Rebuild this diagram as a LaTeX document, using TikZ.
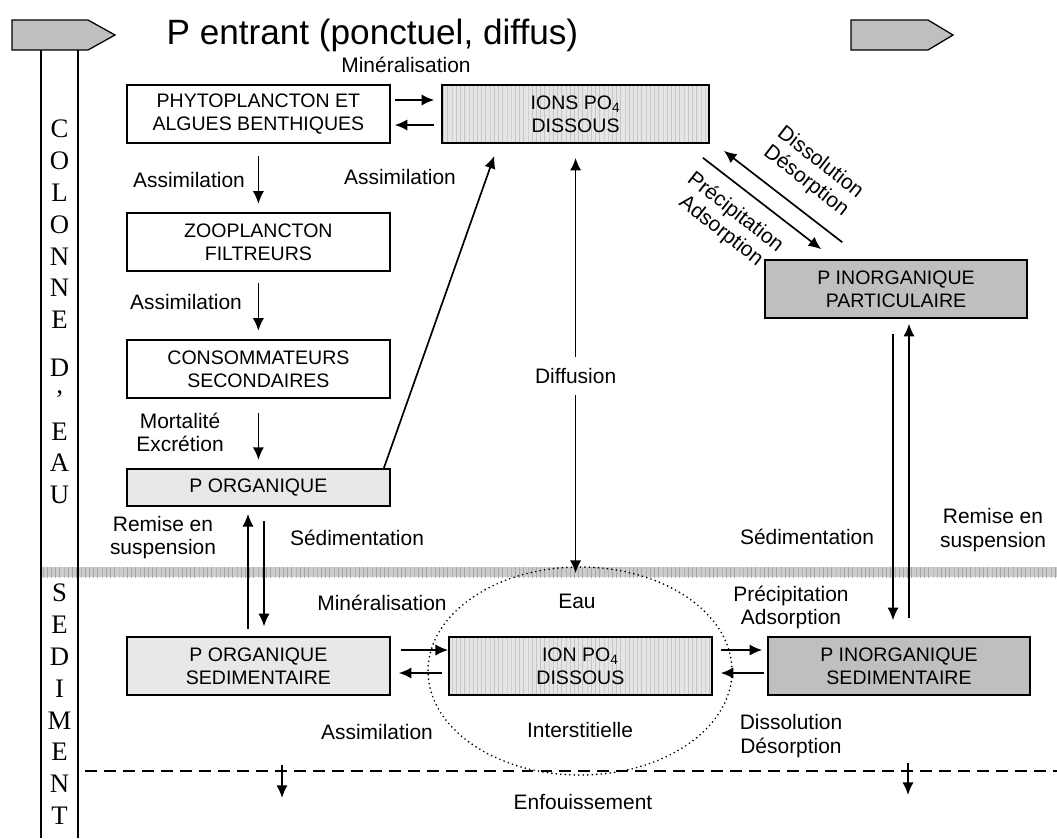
\documentclass[tikz,border=0pt]{standalone}
\usepackage{fontspec}
\setmainfont{Liberation Sans}
\newfontfamily\colfont{Liberation Serif}
\usetikzlibrary{arrows.meta,shapes.geometric,patterns}

\newcommand{\boxfont}{\fontsize{13.9}{16.4}\selectfont}
\newcommand{\lblfont}{\fontsize{14.9}{16.5}\selectfont}

\begin{document}
\begin{tikzpicture}[>={Latex[length=9pt,width=8pt]},
  arr/.style={->, line width=1.2pt},
  box/.style={draw, line width=1.1pt, align=center, font=\boxfont, inner sep=0pt, minimum width=6.58cm, minimum height=1.45cm},
  lbl/.style={align=center, font=\lblfont},
  hatch/.style={preaction={fill=gray!20}, pattern=vertical lines, pattern color=gray!45},
  lettres/.style={align=center, font=\colfont\fontsize{19}{22.6}\selectfont, inner sep=0pt, anchor=north}]

\useasboundingbox (0,0) rectangle (26.425,-20.95);

% colonne d'eau et sediment
\fill[gray!40] (1.025,-14.175) rectangle (26.425,-14.425);
\fill[pattern=vertical lines, pattern color=gray!70] (1.025,-14.175) rectangle (26.425,-14.425);
\draw[line width=1.1pt] (1.025,-1.25) -- (1.025,-20.95);
\draw[line width=1.1pt] (1.95,-1.25) -- (1.95,-20.95);
\draw[line width=0.9pt, fill=gray!50] (0.3,-0.5) -- (2.2,-0.5) -- (2.875,-0.875) -- (2.2,-1.25) -- (0.3,-1.25) -- cycle;
\draw[line width=0.9pt, fill=gray!50] (21.275,-0.5) -- (23.2,-0.5) -- (23.825,-0.875) -- (23.2,-1.25) -- (21.275,-1.25) -- cycle;
\node[lettres] (colonne) at (1.49,-3.0){C\\O\\L\\O\\N\\N\\E\\[11.5pt]D\\’\\E\\A\\U};
\node[lettres] (sediment) at (1.49,-14.6){S\\E\\D\\I\\M\\E\\N\\T};
\node[font=\fontsize{25}{29}\selectfont] (titre) at (9.31,-0.875){P entrant (ponctuel, diffus)};

\draw[dash pattern=on 8.5pt off 5pt, line width=1.6pt] (2.125,-19.275) -- (26.425,-19.275);
\node[ellipse, draw, line width=1.3pt, line cap=round, dash pattern=on 0pt off 3.2pt, minimum width=7.6cm, minimum height=5.2cm] (pore) at (14.5,-16.775){};

% compartiments
\node[box] (phyto) at (6.46,-2.85){PHYTOPLANCTON ET\\ALGUES BENTHIQUES};
\node[box] (zoo) at (6.46,-6.05){ZOOPLANCTON\\FILTREURS};
\node[box] (cons) at (6.46,-9.225){CONSOMMATEURS\\SECONDAIRES};
\node[box, fill=gray!18, minimum height=0.925cm] (porg) at (6.46,-12.19){P ORGANIQUE};
\node[box, fill=gray!18] (porgsed) at (6.46,-16.65){P ORGANIQUE\\SEDIMENTAIRE};
\node[box, hatch, minimum width=6.675cm] (ions) at (14.39,-2.85){IONS PO\textsubscript{4}\\DISSOUS};
\node[box, hatch, minimum width=6.575cm] (ionsed) at (14.51,-16.65){ION PO\textsubscript{4}\\DISSOUS};
\node[box, fill=gray!50, minimum width=6.55cm] (pinorgpart) at (22.4,-7.225){P INORGANIQUE\\PARTICULAIRE};
\node[box, fill=gray!50, minimum width=6.55cm] (pinorgsed) at (22.475,-16.65){P INORGANIQUE\\SEDIMENTAIRE};

\coordinate (remL) at (6.2,0);
\coordinate (sedL) at (6.6,0);
\coordinate (sedR) at (22.325,0);
\coordinate (remR) at (22.725,0);
\coordinate (enfL) at (7.05,-19.125);
\coordinate (enfLb) at (7.05,-19.95);
\coordinate (enfR) at (22.7,-19.075);
\coordinate (enfRb) at (22.7,-19.875);

% flux
\draw[arr, shorten <=2.8pt, shorten >=5pt] ([yshift=0.35cm]phyto.east) -- ([yshift=0.35cm]ions.west);
\draw[arr, shorten <=5pt, shorten >=2.8pt] ([yshift=-0.275cm]ions.west) -- ([yshift=-0.275cm]phyto.east);
\draw[arr, shorten <=9pt, shorten >=6pt] (phyto) -- (zoo);
\draw[arr, shorten <=8pt, shorten >=6pt] (zoo) -- (cons);
\draw[arr, shorten <=10pt, shorten >=6pt] (cons) -- (porg);
\draw[arr] ([xshift=-0.175cm]porg.north east) -- ([shift={(1.325,-0.3)}]ions.south west);
\draw[arr, <->, shorten <=10pt, shorten >=-5pt] (ions.south) -- (ions.south |- pore.north) node[lbl, fill=white, inner xsep=1pt, inner ysep=8pt, pos=0.55] (diff) {Diffusion};
\draw[arr] ([shift={(-0.175,-0.35)}]ions.south east) -- ([shift={(1.425,0.25)}]pinorgpart.north west);
\draw[arr] ([shift={(1.95,0.425)}]pinorgpart.north west) -- ([shift={(0.35,-0.175)}]ions.south east);

\draw[arr, shorten <=10.7pt, shorten >=11.4pt] (pinorgpart.south -| sedR) -- (pinorgsed.north -| sedR);
\draw[arr, shorten <=12.8pt, shorten >=3.5pt] (pinorgsed.north -| remR) -- (pinorgpart.south -| remR);
\draw[arr, shorten <=5pt, shorten >=5pt] (porgsed.north -| remL) -- (porg.south -| remL);
\draw[arr, shorten <=10pt, shorten >=7pt] (porg.south -| sedL) -- (porgsed.north -| sedL);

\draw[arr, shorten <=7pt] ([yshift=0.4cm]porgsed.east) -- ([yshift=0.4cm]ionsed.west);
\draw[arr, shorten <=4.3pt, shorten >=5.7pt] ([yshift=-0.175cm]ionsed.west) -- ([yshift=-0.175cm]porgsed.east);
\draw[arr, shorten <=5.7pt, shorten >=3.6pt] ([yshift=0.4cm]ionsed.east) -- ([yshift=0.4cm]pinorgsed.west);
\draw[arr, shorten <=2pt, shorten >=5.7pt] ([yshift=-0.175cm]pinorgsed.west) -- ([yshift=-0.175cm]ionsed.east);

\draw[arr] (enfL) -- (enfLb);
\draw[arr] (enfR) -- (enfRb);

% etiquettes
\node[lbl] (minera) at (10.15,-1.625){Minéralisation};
\node[lbl] (assimA) at (10.0,-4.425){Assimilation};
\node[lbl] (assimB) at (4.725,-4.5){Assimilation};
\node[lbl] (assimC) at (4.65,-7.55){Assimilation};
\node[lbl] (mort) at (4.5,-10.81){Mortalité\\Excrétion};
\node[lbl] (remiseL) at (4.075,-13.44){Remise en\\suspension};
\node[lbl] (sedimL) at (8.925,-13.45){Sédimentation};
\node[lbl, rotate=-38, inner sep=1pt] (dissolA) at (20.325,-4.3){Dissolution\\Désorption};
\node[lbl, rotate=-38, inner sep=1pt] (precipA) at (18.2,-5.55){Précipitation\\Adsorption};
\node[lbl] (sedimR) at (20.175,-13.425){Sédimentation};
\node[lbl] (remiseR) at (24.825,-13.25){Remise en\\suspension};
\node[lbl] (mineraB) at (9.55,-15.075){Minéralisation};
\node[lbl] (assimD) at (9.425,-18.3){Assimilation};
\node[lbl] (eau) at (14.425,-15.025){Eau};
\node[lbl] (inter) at (14.5,-18.25){Interstitielle};
\node[lbl] (precipB) at (19.775,-15.19){Précipitation\\Adsorption};
\node[lbl] (dissolB) at (19.775,-18.4){Dissolution\\Désorption};
\node[lbl] (enfouis) at (14.575,-20.05){Enfouissement};

\end{tikzpicture}
\end{document}
